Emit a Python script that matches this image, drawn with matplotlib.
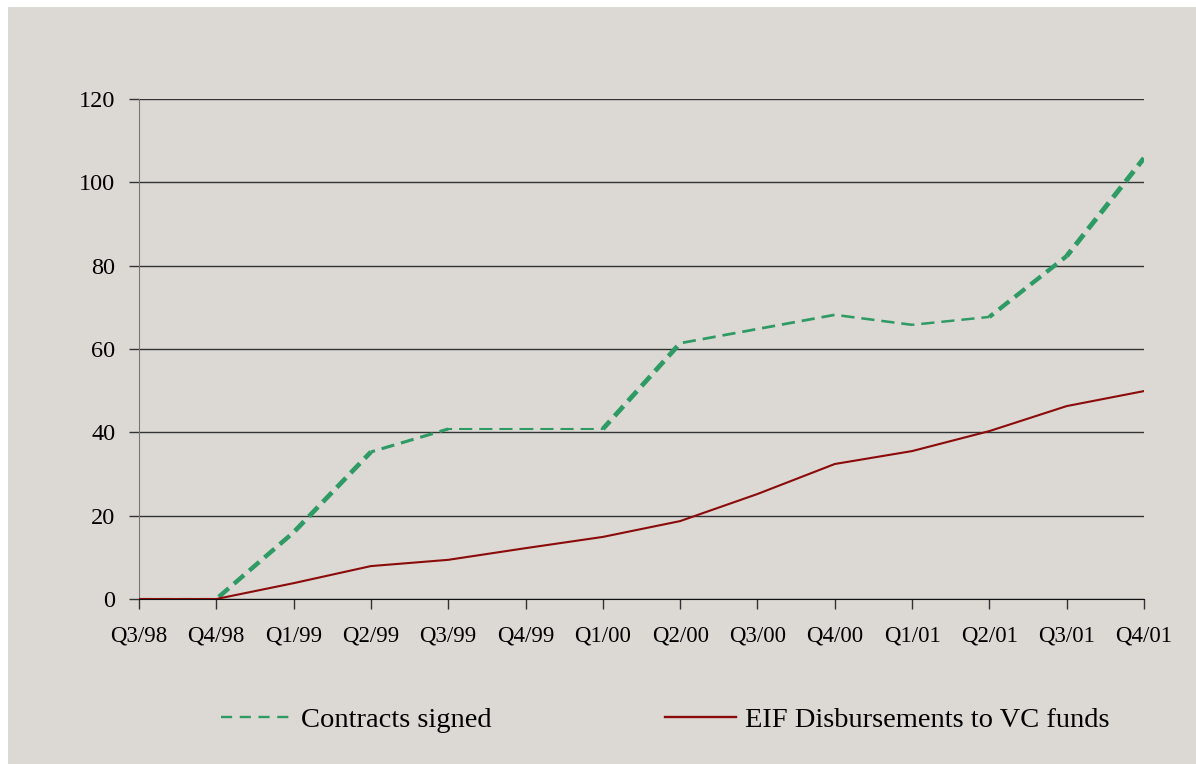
import math
import matplotlib
matplotlib.use("Agg")
import matplotlib.pyplot as plt
from matplotlib.patches import Rectangle
from matplotlib.lines import Line2D

plt.rcParams['font.family'] = ['Liberation Serif', 'DejaVu Serif']
plt.rcParams['lines.scale_dashes'] = False

# quarterly data
quarters = ['Q3/98', 'Q4/98', 'Q1/99', 'Q2/99', 'Q3/99', 'Q4/99', 'Q1/00',
            'Q2/00', 'Q3/00', 'Q4/00', 'Q1/01', 'Q2/01', 'Q3/01', 'Q4/01']
contracts = [0, 0, 16, 35.3, 40.8, 40.8, 40.8, 61.4, 64.8, 68.2, 65.8, 67.7, 82.3, 105.8]
disbursements = [0, 0, 3.8, 7.9, 9.4, 12.2, 14.9, 18.7, 25.2, 32.4, 35.5, 40.3, 46.3, 49.9]

bg = '#dcd9d4'
green = '#2e9a64'
red = '#8b0a0a'
dash = (9.5, 5.0)

fig = plt.figure(figsize=(11.96, 7.64), dpi=100, facecolor='white')
# grey panel with a thin white margin on top and left
fig.patches.append(Rectangle((8 / 1196, 0), 1, 757 / 764, transform=fig.transFigure,
                             facecolor=bg, edgecolor='none', zorder=-1))

ax = fig.add_axes([139 / 1196, 1 - 599 / 764, (1144 - 139) / 1196, 500 / 764])
ax.set_facecolor(bg)

x = list(range(len(quarters)))
ax.set_xlim(0, len(quarters) - 1)
ax.set_ylim(0, 120)

# dashed line drawn segment by segment: steeper pieces come out heavier,
# dash phase carried over so the pattern runs on continuously
pts = ax.transData.transform(list(zip(x, contracts)))
offset = 0.0
for i in range(len(x) - 1):
    dx = (pts[i + 1][0] - pts[i][0]) * 72 / fig.dpi
    dy = (pts[i + 1][1] - pts[i][1]) * 72 / fig.dpi
    seg_len = math.hypot(dx, dy)
    lw = 1.5 + 2.6 * abs(dy) / seg_len
    ax.plot(x[i:i + 2], contracts[i:i + 2], color=green, lw=lw,
            linestyle=(offset, dash), zorder=3)
    offset = (offset + seg_len) % sum(dash)

ax.plot(x, disbursements, color=red, lw=1.5, zorder=4)

ax.set_yticks(range(0, 121, 20))
ax.set_xticks(x)
ax.set_xticklabels(quarters)
ax.grid(axis='y', color='#333333', lw=1)
ax.set_axisbelow(True)

for side in ['top', 'right']:
    ax.spines[side].set_visible(False)
ax.spines['left'].set_color('#777777')
ax.spines['bottom'].set_color('#111111')
ax.tick_params(axis='y', length=7, width=1, color='#333333', labelsize=17.5, pad=10)
ax.tick_params(axis='x', length=7, width=1, color='#333333', labelsize=16.5, pad=12)

handles = [Line2D([], [], color=green, lw=1.7, linestyle=(0, (8, 5.5))),
           Line2D([], [], color=red, lw=1.7)]
labels = ['Contracts signed', 'EIF Disbursements to VC funds']
fig.legend(handles, labels, loc='center', bbox_to_anchor=(0.556, 1 - 720 / 764), ncol=2,
           frameon=False, fontsize=20.5, handlelength=2.5, handletextpad=0.3,
           columnspacing=6.1)

fig.savefig('out.png', dpi=100, facecolor='white')
